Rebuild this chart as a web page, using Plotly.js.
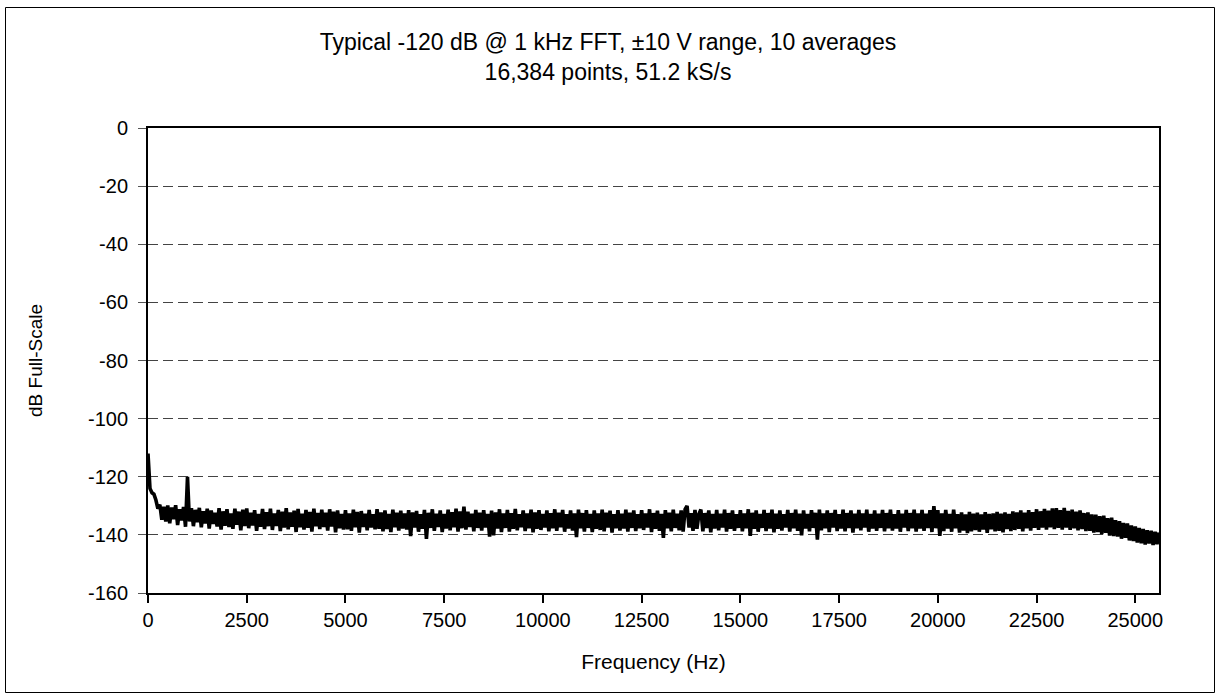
<!DOCTYPE html>
<html>
<head>
<meta charset="utf-8">
<script src="https://cdn.plot.ly/plotly-3.0.1.min.js"></script>
<style>
  html, body { margin: 0; padding: 0; background: #fff; }
  #chart { width: 1216px; height: 694px; }
</style>
</head>
<body>
<div id="chart"></div>
<script>
// ---- data ----
const chartTitle = 'Typical -120 dB @ 1 kHz FFT, \u00b110 V range, 10 averages<br>16,384 points, 51.2 kS/s';
const xAxisTitle = 'Frequency (Hz)';
const yAxisTitle = 'dB Full-Scale';
const xTickValues = [0, 2500, 5000, 7500, 10000, 12500, 15000, 17500, 20000, 22500, 25000];
const yTickValues = [0, -20, -40, -60, -80, -100, -120, -140, -160];
const binWidthHz = 50; // spacing of the values below (0 Hz .. 25600 Hz)
const levelDb = [
  -112, -124, -125.5, -126, -128, -131, -129.6, -134.8, -130.3, -135.4,
  -129.9, -136.0, -130.6, -134.6, -129.8, -136.6, -131.2, -135.0, -130.4, -137.2,
  -120, -135.4, -130.8, -137.0, -131.4, -135.6, -130.7, -137.4, -131.9, -136.1,
  -131.0, -137.8, -131.6, -136.2, -132.4, -137.1, -130.8, -138.2, -131.9, -136.9,
  -131.2, -137.3, -132.6, -137.9, -131.0, -136.5, -132.0, -138.4, -131.3, -137.0,
  -130.9, -137.7, -132.4, -136.8, -131.5, -138.6, -132.8, -137.2, -131.1, -138.0,
  -132.2, -137.0, -131.0, -138.3, -132.6, -136.9, -131.4, -138.7, -132.0, -137.5,
  -130.8, -138.1, -132.3, -137.2, -131.7, -139.0, -131.1, -137.4, -132.7, -138.2,
  -131.4, -137.6, -132.1, -138.9, -131.0, -137.0, -132.5, -138.0, -131.3, -137.3,
  -132.4, -138.5, -131.2, -137.1, -132.0, -139.1, -131.6, -137.7, -132.8, -138.2,
  -131.5, -138.1, -132.6, -138.6, -131.3, -137.4, -132.1, -139.2, -131.8, -137.3,
  -132.7, -138.4, -131.4, -137.5, -132.9, -138.1, -131.2, -137.9, -132.3, -138.8,
  -131.6, -138.0, -132.8, -139.0, -131.3, -137.4, -132.4, -138.5, -131.7, -137.8,
  -132.6, -138.2, -131.5, -140.4, -132.3, -137.5, -131.8, -138.9, -132.9, -137.9,
  -131.4, -141.4, -132.4, -137.6, -131.2, -138.6, -132.7, -137.3, -131.6, -139.0,
  -132.8, -137.8, -131.3, -138.4, -132.2, -137.4, -131.0, -138.9, -131.9, -137.7,
  -130.3, -138.2, -132.0, -137.3, -132.7, -138.8, -131.4, -137.6, -132.4, -138.5,
  -131.5, -137.5, -132.8, -140.6, -131.7, -140.2, -132.3, -137.8, -131.2, -139.0,
  -132.6, -137.6, -131.4, -138.9, -132.5, -137.9, -131.1, -138.4, -132.9, -137.4,
  -131.6, -138.7, -132.6, -137.7, -131.3, -139.1, -132.3, -137.9, -131.5, -138.3,
  -132.8, -137.5, -131.6, -138.8, -132.5, -137.7, -131.2, -138.6, -132.4, -137.4,
  -131.4, -138.9, -132.9, -137.8, -131.6, -138.5, -132.6, -140.8, -131.3, -137.7,
  -132.5, -138.9, -131.5, -137.6, -132.8, -139.0, -131.6, -137.9, -132.6, -138.3,
  -131.3, -138.8, -132.4, -137.5, -131.7, -139.2, -132.9, -137.7, -131.5, -138.5,
  -132.7, -137.8, -131.3, -138.9, -132.4, -137.6, -131.6, -138.7, -132.9, -137.7,
  -131.5, -138.3, -132.6, -137.5, -131.2, -139.0, -132.5, -137.9, -131.7, -138.6,
  -132.8, -141.0, -131.5, -137.7, -132.4, -138.8, -131.3, -137.6, -132.7, -138.4,
  -131.6, -138.9, -131.2, -130.0, -137.5, -132.5, -138.6, -131.4, -137.9, -132.8,
  -131.3, -138.8, -132.5, -137.6, -131.6, -139.1, -132.8, -137.8, -131.4, -138.4,
  -132.7, -137.5, -131.3, -138.9, -132.5, -137.9, -131.6, -138.6, -132.9, -137.6,
  -131.5, -138.8, -132.6, -137.7, -131.2, -140.3, -132.4, -137.9, -131.6, -138.9,
  -132.8, -137.6, -131.4, -138.7, -132.5, -137.8, -131.3, -139.1, -132.7, -137.9,
  -131.6, -138.5, -132.9, -137.5, -131.4, -138.9, -132.5, -137.7, -131.3, -138.6,
  -132.7, -140.2, -131.6, -137.8, -132.8, -138.8, -131.5, -137.6, -132.4, -141.6,
  -131.3, -138.4, -132.6, -137.7, -131.6, -139.0, -132.5, -137.5, -131.4, -138.7,
  -132.9, -137.8, -131.3, -138.8, -132.5, -137.6, -131.6, -139.2, -132.7, -137.7,
  -131.4, -138.4, -132.6, -137.5, -131.3, -138.9, -132.8, -137.8, -131.6, -138.6,
  -132.7, -137.6, -131.4, -138.8, -132.5, -137.7, -131.3, -138.5, -132.9, -137.8,
  -131.5, -138.9, -132.7, -137.5, -131.4, -138.7, -132.5, -137.7, -131.3, -138.9,
  -132.6, -137.8, -131.4, -138.6, -132.7, -137.6, -131.5, -139.0, -130.1, -137.7,
  -131.5, -140.3, -132.6, -138.7, -131.4, -137.8, -132.8, -138.9, -131.3, -137.7,
  -132.9, -139.2, -132.3, -138.5, -133.0, -139.4, -132.1, -138.8, -132.7, -138.3,
  -132.4, -138.9, -133.0, -138.2, -132.2, -139.3, -132.8, -138.1, -132.6, -138.8,
  -132.1, -138.6, -132.7, -139.1, -132.3, -138.0, -132.8, -138.7, -131.9, -138.3,
  -132.3, -137.9, -131.6, -138.8, -132.4, -137.7, -131.5, -138.5, -132.2, -137.6,
  -131.2, -138.3, -131.9, -137.5, -131.1, -138.2, -131.7, -137.4, -130.9, -138.0,
  -130.8, -137.6, -131.5, -138.2, -130.7, -137.5, -131.8, -138.3, -131.3, -137.7,
  -132.0, -138.4, -131.6, -138.0, -132.5, -138.7, -132.3, -138.6, -133.0, -139.2,
  -133.1, -139.0, -133.6, -139.7, -133.4, -139.3, -134.3, -140.2, -134.1, -140.4,
  -135.0, -140.6, -135.3, -141.3, -135.9, -141.0, -136.1, -141.9, -136.8, -142.1,
  -137.1, -142.6, -137.6, -142.9, -138.0, -143.3, -138.4, -143.0, -138.6, -143.5,
  -138.9, -143.2, -139.2
];
const frequencyHz = levelDb.map((_, i) => i * binWidthHz);

// ---- chart ----
const fontFamily = '"Liberation Sans", Arial, sans-serif';
const W = 1216, H = 694;
const M = { l: 148, r: 57, t: 128, b: 101 };
const pw = W - M.l - M.r, ph = H - M.t - M.b;
const px = x => (x - M.l) / pw;
const py = y => (H - M.b - y) / ph;

const trace = {
  x: frequencyHz,
  y: levelDb,
  type: 'scatter',
  mode: 'lines',
  line: { color: '#000', width: 3.6 },
  hoverinfo: 'skip'
};

const layout = {
  width: W, height: H,
  margin: M,
  paper_bgcolor: '#fff',
  plot_bgcolor: '#fff',
  showlegend: false,
  font: { family: fontFamily, size: 20, color: '#000' },
  title: {
    text: chartTitle,
    font: { family: fontFamily, size: 23, color: '#000' },
    xref: 'container', x: 0.5, xanchor: 'center',
    yref: 'container', y: 1 - 50 / H, yanchor: 'top'
  },
  xaxis: {
    range: [0, 25600],
    tickmode: 'array', tickvals: xTickValues, ticktext: xTickValues.map(String),
    showgrid: false, zeroline: false,
    showline: true, linecolor: '#000', linewidth: 2, mirror: true,
    ticks: 'outside', ticklen: 8, tickwidth: 2, tickcolor: '#000',
    tickfont: { family: fontFamily, size: 20, color: '#000' },
    title: { text: xAxisTitle, font: { family: fontFamily, size: 21, color: '#000' }, standoff: 24 },
    automargin: false
  },
  yaxis: {
    range: [-160, 0],
    tickmode: 'array', tickvals: yTickValues, ticktext: yTickValues.map(String),
    showgrid: true, gridcolor: '#444', gridwidth: 1, griddash: '10px,5px',
    zeroline: false,
    showline: true, linecolor: '#000', linewidth: 2, mirror: true,
    ticks: 'outside', ticklen: 8, tickwidth: 1, tickcolor: '#555',
    ticklabelstandoff: 6,
    tickfont: { family: fontFamily, size: 20, color: '#000' },
    title: { text: yAxisTitle, font: { family: fontFamily, size: 19, color: '#000' }, standoff: 40 },
    automargin: false
  },
  shapes: [{
    type: 'rect', xref: 'paper', yref: 'paper',
    x0: px(5.5), x1: px(1214.5), y0: py(692.5), y1: py(7.5),
    line: { color: '#000', width: 1 }, fillcolor: 'rgba(0,0,0,0)', layer: 'below'
  }]
};

Plotly.newPlot('chart', [trace], layout, { staticPlot: true, displayModeBar: false });
</script>
</body>
</html>
